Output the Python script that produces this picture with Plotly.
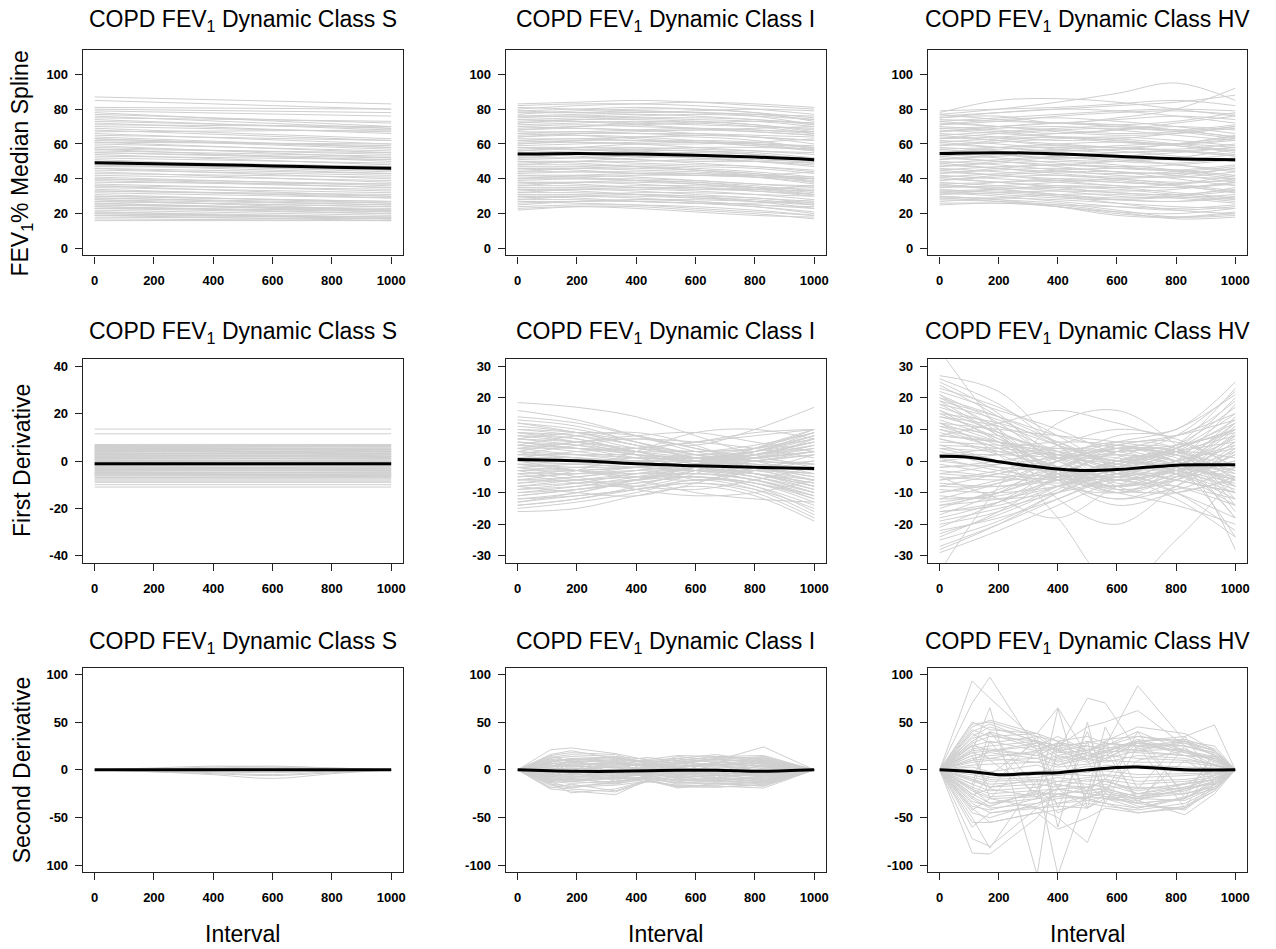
import plotly.graph_objects as go

# ---------------- data ----------------
classes = ["S", "I", "HV"]
x_ticks = [0, 200, 400, 600, 800, 1000]
x6 = [0, 200, 400, 600, 800, 1000]
x2 = [0, 1000]

# Row 1: FEV1 % median spline
S_fev_start = [87,81,80,78,77,76,74,72,71,70, 69,68,66,65,64,63,62,61,60,59,
               58,57,56,55,54,52,51,50,49,48, 47,46,45,44,42,41,40,38,37,36,
               35,34,33,31,30,29,28,27,26,25, 24,23,22,21,20,19,18,17,16,
               85,79,75,73,67,63,61,57,55,53, 50,48,46,43,40,39,36,33,32,30,
               29,28,27,26,25,24,23,21,20,19]
S_fev_end = [83,80,78,70,72,69,68,66,70,67, 63,62,60,62,58,57,59,55,56,52,
             54,50,53,51,48,49,45,47,44,43, 46,40,42,38,39,36,35,37,33,30,
             32,29,31,26,27,25,22,24,21,23, 20,22,19,17,18,16,17,16,16,
             80,76,73,69,68,58,60,55,52,51, 47,45,43,41,37,35,34,30,29,27,
             26,25,24,22,22,21,20,18,17,18]
S_fev_median = [49.2, 48.7, 48.1, 47.4, 46.7, 46.0]

I_fev = [
    [83,84,85,84,82,80],[82,83,83,82,80,77],[80,82,83,84,83,81],[79,80,81,80,78,75],
    [78,78,79,78,77,74],[77,79,80,80,78,73],[76,76,77,76,74,72],[75,76,75,74,73,70],
    [74,75,76,77,76,74],[73,74,74,73,71,68],[72,73,72,71,70,69],[71,72,73,72,70,66],
    [70,71,70,69,68,67],[69,70,71,72,73,72],[68,69,68,66,64,62],[67,67,68,69,68,66],
    [66,67,66,65,64,60],[65,66,66,66,65,64],[64,65,64,62,60,58],[63,63,64,65,64,62],
    [62,63,62,61,59,56],[61,62,62,61,60,59],[60,61,60,58,56,54],[59,60,61,62,61,58],
    [58,58,57,56,55,52],[57,58,58,57,56,55],[56,57,56,54,52,49],[55,56,57,58,58,57],
    [54,54,53,52,50,47],[53,54,55,55,54,51],[52,52,51,49,47,45],[51,52,53,52,50,48],
    [50,50,49,48,47,44],[49,50,50,51,50,49],[48,48,47,45,43,40],[47,47,48,47,46,43],
    [46,46,45,44,42,41],[45,46,46,45,43,38],[44,44,43,42,41,40],[43,44,44,43,41,37],
    [42,42,41,39,37,35],[41,41,42,42,41,38],[40,40,39,38,36,33],[39,40,40,39,37,36],
    [38,38,37,35,33,31],[37,38,38,37,35,32],[36,36,35,34,33,30],[35,35,36,36,35,34],
    [34,34,33,31,29,27],[33,34,34,33,31,28],[32,32,31,30,29,26],[31,31,32,32,31,30],
    [30,30,29,27,25,23],[29,30,30,29,28,25],[28,28,27,26,24,21],[27,27,28,28,27,26],
    [26,27,27,26,24,20],[24,25,25,24,22,19],[22,24,24,22,20,17],
    [81,80,79,78,77,76],[79,78,78,79,80,79],[76,77,78,78,76,71],[74,73,71,69,67,65],
    [72,74,75,75,74,71],[70,69,68,68,69,70],[68,70,72,73,71,67],[66,65,63,61,59,57],
    [64,66,67,68,67,65],[62,61,60,60,61,63],[60,62,64,64,62,57],[58,57,55,53,51,50],
    [56,58,60,61,60,56],[54,53,51,50,50,52],[52,54,56,56,54,50],[50,49,47,45,42,39],
    [48,50,52,53,53,52],[46,45,43,42,42,44],[44,46,47,46,44,41],[42,41,39,37,34,31],
    [40,42,43,43,42,40],[38,37,35,34,34,36],[36,38,39,38,35,31],[34,33,31,29,27,25],
    [32,34,35,35,34,33],[30,29,27,26,26,28],[28,30,31,30,27,23],[27,26,25,23,21,19],
    [25,27,28,27,25,24],[23,24,23,21,19,18],
]
I_fev_median = [54.2, 54.6, 54.2, 53.5, 52.5, 51.0]

HV_fev = [
    [78,85,86,84,80,76],[77,80,84,89,95,85],[76,78,80,82,84,88],[75,76,72,75,80,92],
    [74,73,72,70,68,71],[73,75,77,79,80,79],[72,70,68,66,67,70],[71,74,75,73,70,66],
    [70,68,66,68,72,76],[69,70,72,74,76,74],[68,66,64,62,60,63],[67,69,70,68,65,62],
    [66,64,62,63,66,69],[65,67,69,70,68,64],[64,62,60,58,57,60],[63,64,66,68,70,68],
    [62,60,57,55,56,58],[61,63,64,62,59,56],[60,58,56,57,60,64],[59,61,63,64,62,59],
    [58,56,53,50,49,52],[57,58,59,58,56,53],[56,54,52,53,55,58],[55,57,58,56,53,50],
    [54,52,49,46,45,48],[53,55,57,59,60,58],[52,50,48,47,48,51],[51,53,54,52,48,45],
    [50,48,45,42,41,44],[49,51,53,55,56,54],[48,46,44,43,44,47],[47,49,50,48,45,41],
    [46,44,42,40,38,39],[45,47,48,50,52,50],[44,42,40,38,37,40],[43,45,46,44,40,36],
    [42,40,38,36,35,37],[41,43,45,46,45,42],[40,38,35,32,31,34],[39,41,42,40,37,33],
    [38,36,34,33,34,38],[37,38,39,38,36,32],[36,34,31,28,27,30],[35,36,38,40,41,40],
    [34,32,30,28,27,29],[33,34,35,34,31,28],[32,30,27,24,22,24],[31,32,33,32,30,27],
    [30,28,26,22,18,19],[29,29,28,26,24,23],[28,27,25,21,17,18],[26,26,25,24,23,25],
    [25,26,24,20,18,20],
    [79,80,81,83,85,82],[77,74,72,71,73,78],[75,78,80,79,76,72],[73,70,67,65,66,70],
    [71,73,76,78,79,77],[69,67,64,61,60,62],[67,70,72,71,68,64],[65,62,59,58,60,65],
    [63,66,68,69,67,63],[61,58,55,52,51,54],[59,62,64,63,60,56],[57,54,51,50,52,57],
    [55,58,60,61,59,55],[53,50,47,44,43,46],[51,54,56,57,56,53],[49,46,43,41,42,46],
    [47,50,52,51,48,44],[45,42,39,36,35,38],[43,46,48,47,44,40],[41,38,36,35,37,42],
    [39,42,44,44,42,38],[37,34,31,29,30,33],[35,38,40,39,36,32],[33,31,29,28,30,35],
    [31,34,36,35,32,29],[29,27,24,21,20,23],[27,29,31,31,29,26],[30,28,24,19,18,21],
    [32,33,30,26,22,20],[36,35,33,30,29,31],
]
HV_fev_median = [54.5, 55.0, 54.3, 53.0, 51.5, 51.0]

# Row 2: first derivative
S_d1_start = [13.5,11.5,7,6.5,6,5.5,5,4.5,4,3.5, 3,2.5,2,1.5,1,0.5,0,-0.5,-1,-1.5,
              -2,-2.5,-3,-3.5,-4,-4.5,-5,-5.5,-6,-7, -8,-9,-10,-11, 6,5,-5,3,
              6.5,6,5.8,5.2,4.8,4.2,3.8,3.2,2.8,2.2, 1.8,1.2,0.8,0.2,-0.2,-0.8,-1.2,-1.8,-2.2,-2.8,
              -3.2,-3.8,-4.2,-4.8,-5.2,-5.8,-6.3,-6.8,-7.5,-8.5]
S_d1_end = [13.5,11.5,7,6,6.5,5,5.5,4,4.5,3, 3.5,2,2.5,1,1.5,0,0.5,-1,-0.5,-2,
            -1.5,-3,-2.5,-4,-3.5,-5,-4.5,-6,-5.5,-7, -8,-9,-10,-11, 2,3,-6,4,
            6.5,6.2,5.5,5,4.9,4,3.9,3,2.9,2, 1.9,1,0.9,0,-0.1,-1,-1.1,-2,-2.1,-3,
            -3.1,-4,-4.1,-5,-5.1,-6,-6,-6.5,-7.5,-8.5]
S_d1_median = [-1.1, -1.2]

I_d1 = [
    [18.5,17,14,8,2,-2],[16,13,8,3,0,-1],[13,11,6,2,1,3],[12,10,6,0,-4,-8],
    [11,9,5,1,-2,-5],[10,8,4,2,3,6],[9,8,5,1,-2,-4],[8,7,3,0,-1,-3],
    [7,6,4,3,5,9],[6,5,3,1,-1,-2],[5,4,2,-1,-3,-6],[4,4,3,3,4,8],
    [3,2,1,0,-2,-5],[2,2,2,1,0,-1],[1,0,-1,-2,-4,-8],[0,0,1,2,4,10],
    [-1,-1,-2,-3,-5,-10],[-2,-1,0,1,2,5],[-3,-2,-1,-2,-4,-7],[-4,-3,-2,-1,0,2],
    [-5,-4,-3,-3,-5,-9],[-6,-5,-3,-1,1,4],[-7,-6,-5,-4,-6,-12],[-8,-6,-4,-2,0,3],
    [-9,-8,-6,-4,-6,-11],[-10,-8,-5,-2,1,7],[-11,-9,-7,-5,-8,-14],[-12,-10,-6,-1,4,9],
    [-13,-11,-9,-7,-9,-15],[-14,-12,-8,-3,2,6],[-15,-13,-10,-6,-9,-17],[-16,-15,-11,-8,-11,-19],
    [3,6,8,9,6,3],[-2,-5,-9,-11,-10,-6],[5,8,9,5,-2,-8],[-4,-7,-8,-4,4,10],
    [9,7,2,-6,-3,2],[-6,-3,3,9,10,7],[0,-3,-6,-10,-12,-13],[2,5,7,5,10,17],
    [7,9,8,4,0,-4],[-8,-10,-11,-7,-2,0],[1,3,4,6,8,10],[-1,-3,-5,-6,-3,0],
    [14,12,8,4,1,-1],[12,9,5,3,4,7],[10,9,6,2,-2,-6],[9,6,2,0,2,6],
    [8,6,3,-1,-4,-9],[7,5,2,1,2,4],[6,4,1,-2,-5,-10],[5,3,1,1,3,7],
    [4,2,0,-2,-4,-7],[3,1,0,0,1,3],[2,1,-1,-3,-6,-11],[1,1,0,1,3,8],
    [0,-1,-2,-3,-3,-4],[-1,-2,-2,-1,1,5],[-2,-3,-4,-4,-6,-10],[-3,-3,-2,0,3,8],
    [-4,-4,-4,-3,-4,-6],[-5,-4,-2,0,2,5],[-6,-6,-5,-5,-7,-13],[-7,-5,-3,-1,1,3],
    [-8,-7,-6,-5,-8,-16],[-9,-7,-4,-1,3,9],[-10,-9,-7,-5,-7,-11],[-11,-9,-6,-3,0,2],
    [-12,-11,-9,-7,-10,-18],[-13,-10,-6,-2,2,6],[-14,-12,-9,-6,-7,-12],[4,6,7,6,4,1],
    [-3,-6,-8,-9,-6,-2],[6,4,4,6,9,10],
]
I_d1_median = [0.5, 0.1, -0.9, -1.5, -2.0, -2.4]

HV_d1 = [
    [27,22,5,-8,-10,-5],[25,15,-2,-10,-5,8],[22,16,10,2,-3,-8],[21,12,0,-6,-2,10],
    [20,10,-5,-12,-6,5],[19,14,8,4,0,-4],[18,8,-4,-8,-2,12],[17,11,3,-3,-5,-2],
    [16,6,-6,-14,-10,-6],[15,12,6,0,4,15],[14,9,2,-4,-8,-14],[13,7,0,-6,-3,3],
    [12,10,8,6,3,-2],[11,5,-2,-8,-4,6],[10,6,1,-4,-10,-18],[9,4,-4,-8,-2,11],
    [8,6,4,3,5,9],[7,2,-5,-10,-14,-20],[6,5,3,0,-2,-5],[5,0,-6,-8,0,18],
    [4,3,2,1,-3,-9],[3,-2,-8,-10,-5,2],[2,4,6,5,0,-8],[1,-3,-5,-3,3,13],
    [0,2,4,3,-1,-6],[-1,-4,-6,-4,0,5],[-2,0,3,5,2,-3],[-3,-5,-7,-5,-3,0],
    [-4,-1,5,10,7,-2],[-5,-6,-5,-2,3,8],[-6,-3,2,6,4,-10],[-7,-8,-6,-1,4,10],
    [-8,-4,1,6,10,21],[-9,-10,-8,-4,-6,-10],[-10,-6,0,4,2,-5],[-11,-12,-10,-5,0,4],
    [-12,-7,0,5,8,13],[-13,-10,-4,2,-4,-14],[-14,-12,-8,-2,5,23],[-15,-9,-2,4,1,-8],
    [-16,-13,-6,0,3,1],[-17,-10,0,8,10,25],[-19,-15,-10,-4,-10,-22],[-21,-13,-3,5,6,-2],
    [-22,-18,-12,-6,-12,-24],[-24,-16,-5,3,8,15],[-27,-20,-12,-4,2,-12],[-29,-22,-14,-6,0,-28],
    [35,10,-12,-20,-8,4],[-35,-8,12,16,5,-16],[8,12,16,12,8,19],[-5,-12,-18,-8,-2,-18],
    [12,2,-18,-40,-25,-5],
    [26,18,5,-5,-3,6],[24,14,1,-9,-9,-2],[23,17,8,-2,-6,-10],[21,9,-4,-10,-2,14],
    [20,14,6,-2,-4,0],[19,8,-6,-12,-8,3],[18,13,5,-1,-3,-7],[16,9,1,-6,-6,4],
    [15,7,-3,-8,-4,9],[14,11,5,0,-2,-6],[12,6,-2,-7,-8,-12],[11,8,3,-2,0,7],
    [10,4,-4,-9,-6,2],[8,6,2,-2,-4,-10],[7,3,-2,-5,0,12],[5,4,2,0,-1,-3],
    [4,0,-4,-6,-2,8],[2,2,1,-1,-4,-12],[0,-2,-3,-2,2,10],[-2,-1,1,2,0,-6],
    [-4,-5,-4,-1,3,6],[-6,-4,0,4,3,-4],[-8,-8,-5,0,4,12],[-10,-7,-2,3,2,-8],
    [-12,-11,-6,0,5,17],[-14,-10,-3,4,4,-6],[-16,-14,-8,-1,4,20],[-18,-13,-5,3,3,-14],
    [-20,-16,-8,1,8,22],[-23,-17,-9,0,0,-18],[-25,-19,-10,-2,4,10],[-28,-20,-10,0,-2,-24],
]
HV_d1_median_x = [0, 100, 200, 300, 400, 500, 600, 700, 800, 900, 1000]
HV_d1_median = [1.5, 1.2, -0.2, -1.5, -2.5, -3.0, -2.7, -2.0, -1.3, -1.2, -1.2]

# Row 3: second derivative
S_d2 = [
    [0,-1,-3,-5,-2,0],[0,1,3,4,2,0],[0,-2,-4,-6,-3,0],[0,1,2,3,2,0],[0,-1,-2,-3,-1,0],
    [0,2,4,3,1,0],[0,-2,-5,-9,-4,0],[0,1,1,2,1,0],[0,-1,-1,-1,-1,0],[0,0,1,1,0,0],
]
S_d2_median = [0, 0, 0, 0, 0, 0]

I_d2_x = [0, 110, 180, 330, 440, 540, 670, 830, 1000]
I_d2 = [
    [0,21,23,17,10,12,16,8,0],[0,15,18,16,6,14,10,24,0],[0,12,14,12,9,10,13,12,0],
    [0,10,11,13,7,8,9,11,0],[0,8,12,10,5,6,11,9,0],[0,9,7,11,8,4,7,10,0],
    [0,6,9,8,4,7,5,8,0],[0,7,5,6,6,3,8,6,0],[0,4,6,7,3,5,4,7,0],
    [0,5,3,4,5,2,6,4,0],[0,3,4,2,1,4,3,5,0],[0,2,1,3,2,1,2,3,0],
    [0,1,2,0,1,2,0,1,0],[0,0,-1,1,0,-1,1,0,0],[0,-1,0,-2,-1,0,-1,-2,0],
    [0,-2,-3,-1,-2,-3,-2,-1,0],[0,-3,-2,-4,-3,-2,-4,-3,0],[0,-4,-5,-3,-4,-5,-3,-5,0],
    [0,-5,-4,-6,-3,-4,-6,-4,0],[0,-6,-7,-5,-6,-3,-5,-7,0],[0,-7,-6,-8,-5,-7,-6,-6,0],
    [0,-8,-9,-7,-4,-8,-9,-8,0],[0,-9,-8,-10,-7,-6,-8,-10,0],[0,-10,-12,-9,-8,-10,-11,-9,0],
    [0,-11,-10,-13,-6,-12,-10,-12,0],[0,-12,-14,-12,-9,-11,-13,-11,0],[0,-13,-12,-15,-8,-14,-12,-14,0],
    [0,-15,-17,-14,-10,-13,-15,-13,0],[0,-18,-20,-23,-12,-16,-17,-19,0],[0,-20,-22,-26,-10,-18,-18,-15,0],
    [0,-14,-24,-20,-11,-19,-14,-17,0],[0,12,-6,8,-4,10,-8,6,0],[0,-10,6,-8,5,-9,7,-6,0],
    [0,6,-4,10,-6,8,-5,9,0],[0,-5,8,-6,9,-7,6,-8,0],[0,3,10,-3,2,12,-2,4,0],
    [0,-8,2,-12,4,-3,-10,2,0],[0,14,9,3,-5,6,12,-4,0],[0,-12,-4,5,10,-6,-3,-12,0],
    [0,16,20,12,8,10,14,12,0],[0,11,9,14,6,12,8,13,0],[0,9,12,7,10,7,12,6,0],
    [0,7,4,9,3,9,5,10,0],[0,4,8,3,6,2,8,3,0],[0,-4,-8,-3,-6,-2,-8,-3,0],
    [0,-7,-4,-9,-3,-9,-5,-10,0],[0,-9,-12,-7,-10,-7,-12,-6,0],[0,-11,-9,-14,-6,-12,-8,-13,0],
    [0,-16,-19,-12,-8,-15,-14,-17,0],[0,-19,-15,-22,-11,-17,-16,-12,0],[0,-13,-18,-16,-12,-17,-18,-16,0],
    [0,13,16,14,11,15,14,15,0],[0,-6,-11,-8,-13,-9,-11,-15,0],[0,8,11,9,13,9,11,14,0],
]
I_d2_median_x = [0, 110, 200, 330, 440, 540, 670, 830, 1000]
I_d2_median = [0, -1.0, -1.5, -1.5, -1.0, -0.5, -0.5, -1.5, 0]

HV_d2_x = [0, 110, 170, 330, 400, 500, 560, 670, 830, 930, 1000]
HV_d2 = [
    [0,93,75,30,20,10,25,40,20,10,0],[0,70,97,20,5,15,10,30,15,5,0],
    [0,48,50,35,30,20,25,88,30,20,0],[0,45,52,38,65,15,20,30,35,47,0],
    [0,40,48,28,20,75,70,20,30,15,0],[0,35,45,30,25,45,50,62,25,18,0],
    [0,30,40,25,35,20,30,45,38,20,0],[0,28,35,38,22,30,25,35,30,25,0],
    [0,25,30,20,28,25,20,28,25,18,0],[0,22,25,30,18,20,28,25,20,12,0],
    [0,20,22,15,25,15,18,22,28,15,0],[0,18,20,25,12,18,15,30,18,10,0],
    [0,15,18,12,20,10,20,18,15,12,0],[0,12,15,18,8,15,12,20,22,8,0],
    [0,10,12,8,15,8,15,12,10,6,0],[0,8,10,12,5,12,8,15,12,5,0],
    [0,5,6,8,3,6,10,8,8,4,0],[0,3,-2,5,-3,4,2,5,3,2,0],
    [0,0,-5,-2,0,-3,5,2,-2,0,0],[0,-3,-8,-5,-6,-2,-1,-5,-4,-3,0],
    [0,-5,-10,-8,-4,-6,-5,-8,-6,-4,0],[0,-8,-12,-10,-12,-8,-6,-12,-10,-6,0],
    [0,-10,-15,-12,-8,-12,-10,-15,-12,-8,0],[0,-12,-18,-15,-18,-10,-12,-20,-15,-10,0],
    [0,-15,-22,-18,-12,-15,-18,-18,-20,-12,0],[0,-18,-25,-22,-20,-18,-15,-25,-18,-15,0],
    [0,-20,-28,-25,-25,-22,-20,-28,-22,-12,0],[0,-22,-30,-28,-20,-25,-28,-30,-25,-18,0],
    [0,-25,-35,-30,-28,-30,-22,-35,-30,-15,0],[0,-28,-38,-22,-35,-28,-30,-40,-28,-20,0],
    [0,-30,-40,-35,-25,-32,-35,-45,-38,-22,0],[0,-35,-45,-40,-38,-40,-30,-32,-47,-25,0],
    [0,-40,-55,-45,-42,-35,-38,-42,-35,-20,0],[0,-55,-55,-45,-62,-50,-40,-45,-40,-15,0],
    [0,-72,-80,-40,-50,-76,-30,-35,-30,-10,0],[0,-87,-88,-50,-20,-40,-25,-30,-20,-5,0],
    [0,-50,-82,-10,-110,-20,-10,-25,-15,0,0],[0,20,65,-110,30,10,-20,10,20,5,0],
    [0,15,-20,35,-60,50,-25,40,-30,20,0],[0,-20,30,-30,64,-40,30,-35,25,-15,0],
    [0,25,-30,20,-40,30,-35,25,-40,10,0],[0,-15,40,-20,30,-25,45,-20,35,-10,0],
    [0,30,10,-25,15,-30,20,-30,10,-8,0],[0,-30,-5,30,-20,40,-10,30,-25,15,0],
    [0,42,35,30,25,28,32,35,28,20,0],[0,38,28,35,20,25,22,30,32,22,0],
    [0,33,38,22,28,18,28,25,25,16,0],[0,26,20,28,15,22,18,32,20,14,0],
    [0,-26,-20,-28,-15,-22,-18,-32,-20,-14,0],[0,-33,-38,-22,-28,-18,-28,-25,-25,-16,0],
    [0,-38,-42,-30,-20,-25,-22,-30,-32,-18,0],[0,-45,-50,-35,-30,-28,-25,-38,-40,-22,0],
    [0,-20,-35,-25,-45,-30,-20,-28,-18,-10,0],[0,18,12,20,22,12,24,20,15,14,0],
    [0,-10,-18,-10,-16,-18,-12,-22,-14,-10,0],[0,10,20,15,10,18,12,28,18,12,0],
    [0,-60,-45,-38,-25,-30,-35,-40,-30,-12,0],[0,50,42,38,30,35,28,25,30,20,0],
    [0,-42,-30,-40,-35,-32,-28,-35,-42,-18,0],
]
HV_d2_median_x = [0, 110, 200, 330, 400, 500, 600, 670, 830, 1000]
HV_d2_median = [0, -2, -5, -3.5, -3, 0, 2.5, 3, 0, 0]

row_titles = ["FEV<sub>1</sub>% Median Spline", "First Derivative", "Second Derivative"]
y_ranges = [
    [[-4, 114], [-4, 114], [-4, 114]],
    [[-43, 43], [-32.2, 32.2], [-32.2, 32.2]],
    [[-107, 107], [-107, 107], [-107, 107]],
]
y_tickvals = [
    [[0, 20, 40, 60, 80, 100]] * 3,
    [[-40, -20, 0, 20, 40], [-30, -20, -10, 0, 10, 20, 30], [-30, -20, -10, 0, 10, 20, 30]],
    [[-100, -50, 0, 50, 100]] * 3,
]
y_ticktext = [
    [["0", "20", "40", "60", "80", "100"]] * 3,
    [["-40", "-20", "0", "20", "40"], ["-30", "-20", "-10", "0", "10", "20", "30"],
     ["-30", "-20", "-10", "0", "10", "20", "30"]],
    [["100", "-50", "0", "50", "100"], ["-100", "-50", "0", "50", "100"],
     ["-100", "-50", "0", "50", "100"]],
]

# ---------------- layout geometry (pixels) ----------------
W, H = 1276, 949
col_px = [(83, 404), (507, 828), (930, 1250)]
row_px = [(49, 255), (359, 563), (668, 873)]
title_y_px = [20, 332, 643]
ylabel_y_px = [163, 460, 770]

GRAY = "#cfcfcf"
FONT = "Liberation Sans, Arial, sans-serif"


def join_lines(xs_list, ys_list):
    X, Y = [], []
    for xs, ys in zip(xs_list, ys_list):
        X += list(xs) + [None]
        Y += list(ys) + [None]
    return X, Y


panels = [
    # row 1
    (join_lines([x2] * len(S_fev_start), [[a, b] for a, b in zip(S_fev_start, S_fev_end)]), "linear", x6, S_fev_median),
    (join_lines([x6] * len(I_fev), I_fev), "spline", x6, I_fev_median),
    (join_lines([x6] * len(HV_fev), HV_fev), "spline", x6, HV_fev_median),
    # row 2
    (join_lines([x2] * len(S_d1_start), [[a, b] for a, b in zip(S_d1_start, S_d1_end)]), "linear", x2, S_d1_median),
    (join_lines([x6] * len(I_d1), I_d1), "spline", x6, I_d1_median),
    (join_lines([x6] * len(HV_d1), HV_d1), "spline", HV_d1_median_x, HV_d1_median),
    # row 3
    (join_lines([x6] * len(S_d2), S_d2), "spline", x6, S_d2_median),
    (join_lines([I_d2_x] * len(I_d2), I_d2), "linear", I_d2_median_x, I_d2_median),
    (join_lines([HV_d2_x] * len(HV_d2), HV_d2), "linear", HV_d2_median_x, HV_d2_median),
]

fig = go.Figure()
annotations = []
layout_axes = {}

for k, ((gx, gy), shape, mx, my) in enumerate(panels):
    r, c = divmod(k, 3)
    n = k + 1
    xa = "x" if n == 1 else f"x{n}"
    ya = "y" if n == 1 else f"y{n}"
    fig.add_trace(go.Scatter(x=gx, y=gy, mode="lines", xaxis=xa, yaxis=ya,
                             line=dict(color=GRAY, width=1, shape=shape),
                             connectgaps=False, hoverinfo="skip", showlegend=False))
    fig.add_trace(go.Scatter(x=mx, y=my, mode="lines", xaxis=xa, yaxis=ya,
                             line=dict(color="black", width=3, shape="spline"),
                             showlegend=False))
    x0, x1 = col_px[c]
    y0, y1 = row_px[r]
    axcommon = dict(showline=True, mirror=True, linecolor="#222222", linewidth=1.2,
                    ticks="outside", ticklen=7, tickwidth=1, tickcolor="#222222",
                    showgrid=False, zeroline=False,
                    tickfont=dict(family=FONT, size=13, color="black", weight="bold"))
    layout_axes["xaxis" if n == 1 else f"xaxis{n}"] = dict(
        domain=[x0 / W, x1 / W], range=[-40, 1040], anchor=ya,
        tickvals=x_ticks, ticktext=[str(v) for v in x_ticks],
        ticklabelstandoff=6, **axcommon)
    layout_axes["yaxis" if n == 1 else f"yaxis{n}"] = dict(
        domain=[1 - y1 / H, 1 - y0 / H], range=y_ranges[r][c], anchor=xa,
        tickvals=y_tickvals[r][c], ticktext=y_ticktext[r][c],
        ticklabelstandoff=4, **axcommon)
    annotations.append(dict(
        text=f"COPD FEV<sub>1</sub> Dynamic Class {classes[c]}",
        x=(x0 + x1) / 2 / W, y=1 - title_y_px[r] / H, xref="paper", yref="paper",
        xanchor="center", yanchor="middle", showarrow=False,
        font=dict(family=FONT, size=23, color="black")))
    if r == 2:
        annotations.append(dict(
            text="Interval", x=(x0 + x1) / 2 / W, y=1 - 935 / H,
            xref="paper", yref="paper", xanchor="center", yanchor="middle",
            showarrow=False, font=dict(family=FONT, size=23, color="black")))

for r in range(3):
    annotations.append(dict(
        text=row_titles[r], x=22 / W, y=1 - ylabel_y_px[r] / H,
        xref="paper", yref="paper", xanchor="center", yanchor="middle",
        textangle=-90, showarrow=False,
        font=dict(family=FONT, size=23, color="black")))

fig.update_layout(width=W, height=H, margin=dict(l=0, r=0, t=0, b=0),
                  paper_bgcolor="white", plot_bgcolor="white",
                  annotations=annotations, **layout_axes)

fig.write_html("out.html")
